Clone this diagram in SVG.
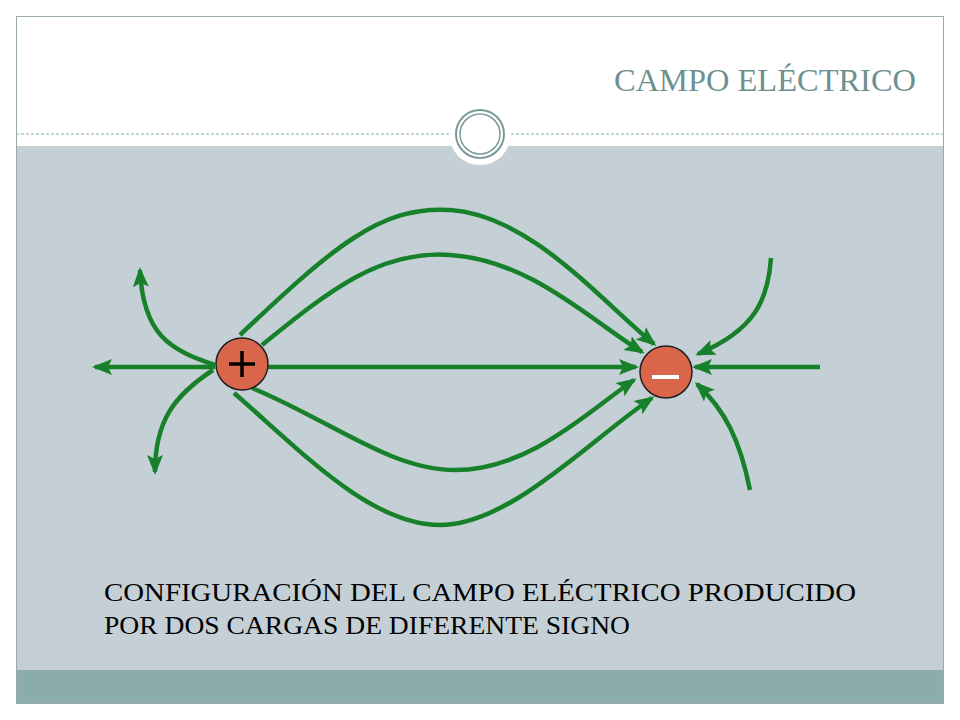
<svg xmlns="http://www.w3.org/2000/svg" width="960" height="720" viewBox="0 0 960 720">
<style>
.f{fill:none;stroke:#17802a;stroke-width:4.5;marker-end:url(#a)}
.c{fill:#d9654a;stroke:#222;stroke-width:1.5}
text{font-family:"Liberation Serif",serif}
</style>
<defs><marker id="a" markerUnits="userSpaceOnUse" markerWidth="22" markerHeight="18" refX="17" refY="8" orient="auto" viewBox="0 0 22 16"><path d="M0,0 L20,8 L0,16 L4,8Z" fill="#17802a"/></marker></defs>
<rect width="960" height="720" fill="#fff"/>
<rect x="16" y="146" width="928" height="524" fill="#c5d0d6"/>
<rect x="16" y="670" width="928" height="34" fill="#8aacac"/>
<rect x="16.5" y="16.5" width="927" height="687" fill="none" stroke="#9aa" stroke-width="1"/>
<line x1="16" y1="134" x2="944" y2="134" stroke="#8aa" stroke-dasharray="3,2"/>
<circle cx="480" cy="134" r="31" fill="#fff"/>
<circle cx="480" cy="134" r="24" fill="none" stroke="#7b9a9a" stroke-width="2"/>
<circle cx="480" cy="134" r="20" fill="none" stroke="#7b9a9a" stroke-width="1.5"/>
<text x="916" y="91" text-anchor="end" font-size="32" fill="#6e9090" textLength="302" lengthAdjust="spacingAndGlyphs">CAMPO ELÉCTRICO</text>
<g id="connectors">
<path class="f" d="M240,335 C330,250 380,205 450,210 C530,215 600,300 654,344"/>
<path class="f" d="M262,345 C330,290 380,250 450,255 C530,260 590,320 642,352"/>
<path class="f" d="M268,367 L636,367"/>
<path class="f" d="M252,388 C330,420 390,470 455,470 C530,470 590,410 634,380"/>
<path class="f" d="M234,393 C300,450 370,525 440,525 C510,525 590,440 652,398"/>
<path class="f" d="M215,367 L95,367"/>
<path class="f" d="M215,365 C170,350 143,335 140,270"/>
<path class="f" d="M213,370 C175,395 155,420 155,472"/>
<path class="f" d="M820,367 L695,367"/>
<path class="f" d="M771,258 C768,300 755,330 698,354"/>
<path class="f" d="M750,490 C740,440 725,410 697,384"/>
</g>
<g id="plus"><circle class="c" cx="242" cy="364" r="26"/><path d="M242,351 V377 M229,364 H255" stroke="#000" stroke-width="3.5"/></g>
<g id="minus"><circle class="c" cx="666" cy="372" r="26"/><path d="M652,377 H679" stroke="#fff" stroke-width="4"/></g>
<text x="104" y="601" font-size="25" fill="#000" textLength="752" lengthAdjust="spacingAndGlyphs">CONFIGURACIÓN  DEL  CAMPO  ELÉCTRICO  PRODUCIDO</text>
<text x="104" y="634" font-size="25" fill="#000" textLength="526" lengthAdjust="spacingAndGlyphs">POR DOS CARGAS DE DIFERENTE SIGNO</text>
</svg>
